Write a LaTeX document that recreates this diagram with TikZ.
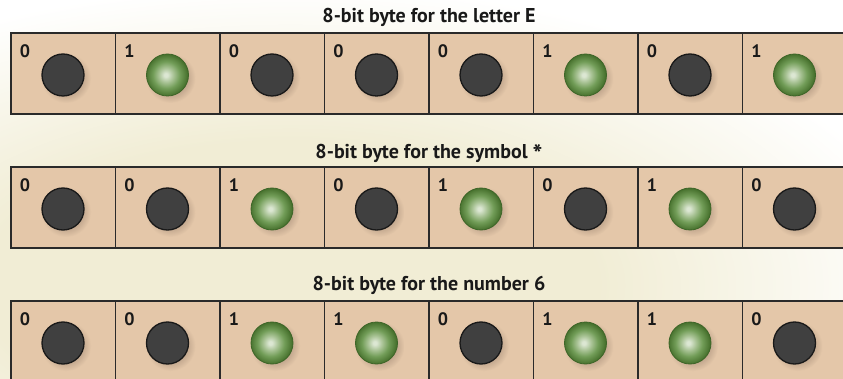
\documentclass[tikz,border=0pt]{standalone}
\usepackage{fontspec}
\setmainfont{PT Sans}
\usetikzlibrary{calc}
\definecolor{boxc}{HTML}{E4C7A9}
\definecolor{cream}{HTML}{F1EDD5}
\definecolor{shd}{HTML}{B89E86}
\definecolor{darkb}{HTML}{404040}
\definecolor{edgec}{HTML}{2A2A2A}
\definecolor{gc0}{HTML}{DCE7D3}
\definecolor{gc1}{HTML}{A6C192}
\definecolor{gc2}{HTML}{729D58}
\definecolor{gc3}{HTML}{557F3B}
\definecolor{gc4}{HTML}{45702C}
\pgfdeclareradialshading{glowsh}{\pgfpoint{0bp}{0bp}}{color(0bp)=(cream); color(12bp)=(cream); color(25bp)=(white); color(50bp)=(white)}
\pgfdeclareradialshading{shadowsh}{\pgfpoint{0bp}{0bp}}{color(0bp)=(shd); color(14bp)=(shd); color(25bp)=(boxc); color(50bp)=(boxc)}
\pgfdeclareradialshading{greenball}{\pgfpoint{-2bp}{0bp}}{color(0bp)=(gc0); color(2bp)=(gc0); color(9bp)=(gc1); color(16bp)=(gc2); color(22bp)=(gc3); color(25bp)=(gc4); color(50bp)=(gc4)}
\tikzset{
  cell/.style={draw=edgec, line width=1.1pt, fill=boxc, minimum width=104.5pt, minimum height=81pt, inner sep=0pt, outer sep=0pt, anchor=north west},
  darkdot/.style={circle, draw=black!90, line width=1.3pt, fill=darkb, minimum size=42pt, inner sep=0pt},
  greendot/.style={circle, draw=gc4!90!black, line width=0.8pt, shading=greenball, minimum size=42pt, inner sep=0pt},
  shadowdot/.style={circle, shading=shadowsh, minimum size=50pt, inner sep=0pt},
  digit/.style={font=\fontsize{18}{20}\selectfont\bfseries, text=black!90, inner sep=0pt},
  title/.style={font=\fontsize{20}{24}\selectfont\bfseries, text=black!90, inner sep=0pt}
}
\begin{document}
\begin{tikzpicture}[x=1pt, y=-1pt]
\useasboundingbox (0,0) rectangle (843,379);
\begin{scope}
\clip (0,0) rectangle (843,379);
\fill[white] (0,0) rectangle (843,379);
\shade[shading=glowsh] (290,285) ellipse (640pt and 300pt);
\foreach \bits [count=\r] in {{0,1,0,0,0,1,0,1},{0,0,1,0,1,0,1,0},{0,0,1,1,0,1,1,0}}{
  \pgfmathsetmacro\tp{33+134*(\r-1)}
  \foreach \b [count=\i] in \bits {
    \pgfmathsetmacro\xl{11+104.5*(\i-1)}
    \node[cell] (c\r-\i) at (\xl,\tp) {};
    \node[shadowdot] (s\r-\i) at (\xl+55,\tp+45) {};
    \ifnum\b=1
      \node[greendot] (k\r-\i) at (\xl+52,\tp+42) {};
    \else
      \node[darkdot] (k\r-\i) at (\xl+52,\tp+42) {};
    \fi
    \node[digit] (d\r-\i) at (\xl+14,\tp+18) {\b};
  }
}
\end{scope}
\node[title] (t1) at (429,17.5) {8-bit byte for the letter E};
\node[title, anchor=base] (t2) at (429,158.5) {8-bit byte for the symbol \raisebox{-5pt}{\fontsize{26}{24}\selectfont *}};
\node[title] (t3) at (429,285.5) {8-bit byte for the number 6};
\end{tikzpicture}
\end{document}
